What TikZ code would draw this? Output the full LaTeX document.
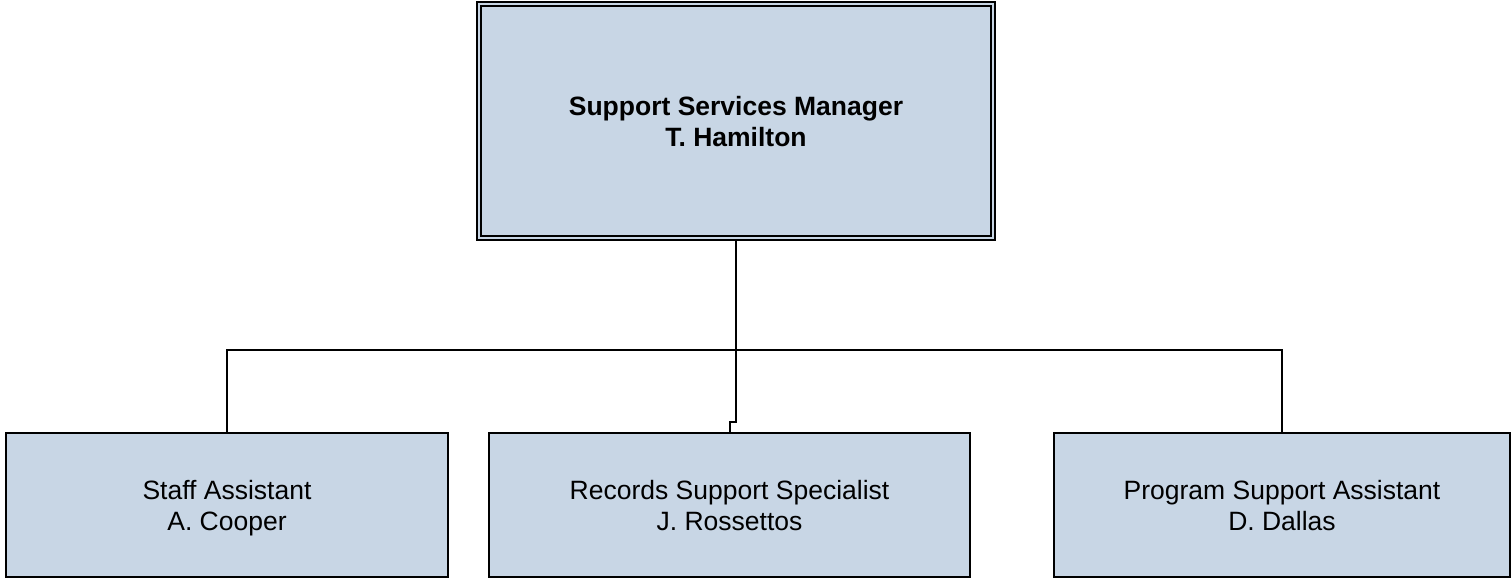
\documentclass[tikz,border=0pt]{standalone}
\usepackage{fontspec}
\setmainfont{Liberation Sans}
\definecolor{boxfill}{RGB}{200,214,229}
\newcommand{\twolines}[2]{\raisebox{-4pt}[\height][\depth]{\begin{tabular}{@{}c@{}}#1\\#2\end{tabular}}}
\begin{document}
\begin{tikzpicture}[x=1pt,y=-1pt,
  box/.style={draw=black,fill=boxfill,line width=2pt,inner sep=0pt,font=\fontsize{26.5}{31}\selectfont},
  conn/.style={draw=black,line width=2pt}]
\useasboundingbox (0,0) rectangle (1511,578);
\node[box,minimum width=518pt,minimum height=238pt,font=\fontsize{26.5}{31}\selectfont\bfseries] (mgr) at (736,121) {\twolines{Support Services Manager}{T. Hamilton}};
\draw[line width=2pt] ([shift={(5,5)}]mgr.north west) rectangle ([shift={(-5,-5)}]mgr.south east);
\node[box,minimum width=442pt,minimum height=144pt] (sa) at (227,505) {\twolines{Staff Assistant}{A. Cooper}};
\node[box,minimum width=481pt,minimum height=144pt] (rec) at (729.5,505) {\twolines{Records Support Specialist}{J. Rossettos}};
\node[box,minimum width=456pt,minimum height=144pt] (psa) at (1282,505) {\twolines{Program Support Assistant}{D. Dallas}};
\coordinate (bus) at (0,350);
\coordinate (jog) at (0,422);
\draw[conn] (mgr.south) -- (mgr.south |- jog) -| (rec.north);
\draw[conn] (sa.north) -- (sa.north |- bus) -- (psa.north |- bus) -- (psa.north);
\end{tikzpicture}
\end{document}
